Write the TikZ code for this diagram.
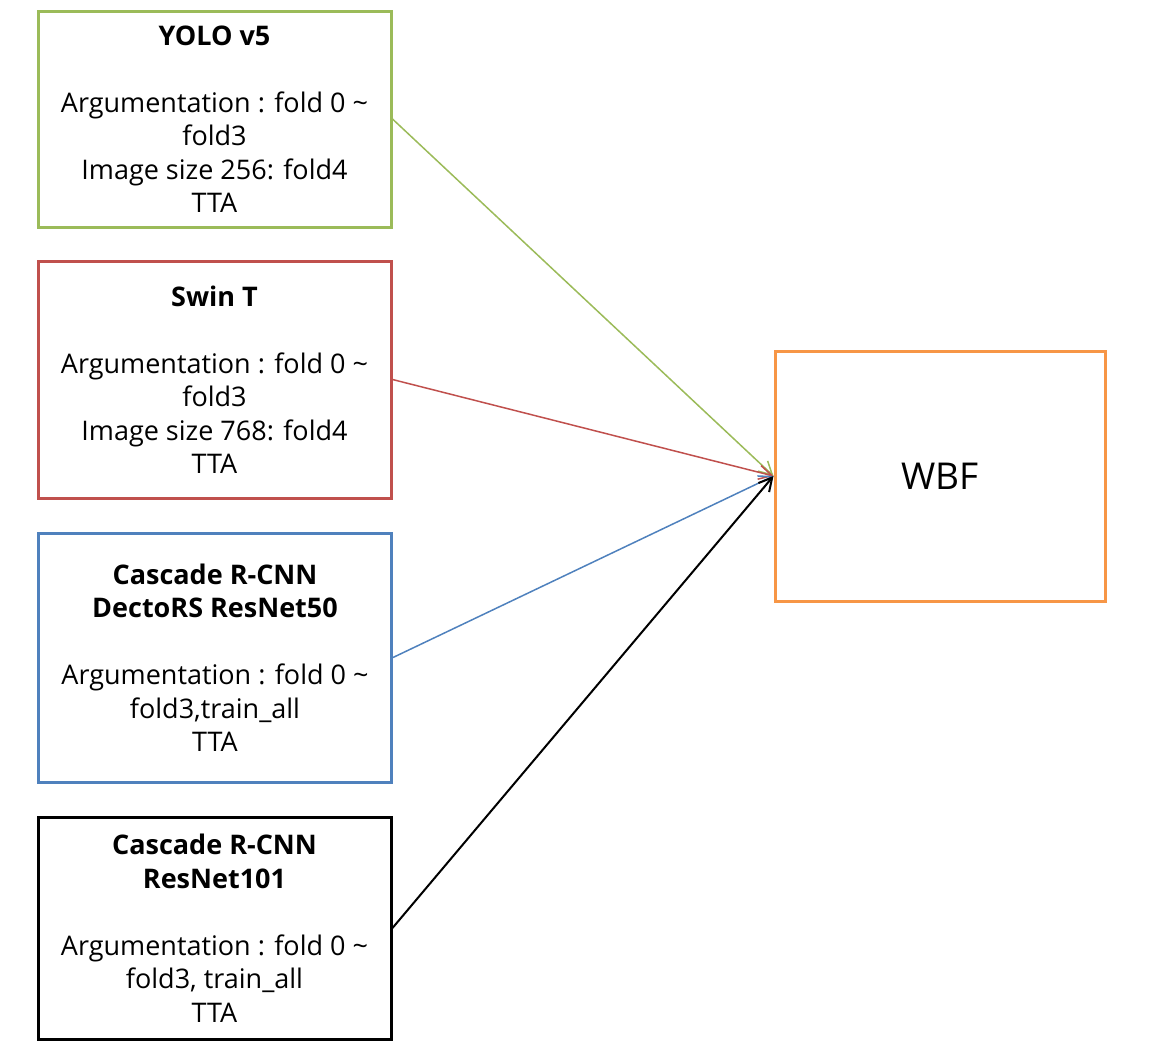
\documentclass[tikz,border=0pt]{standalone}
\usepackage{fontspec}
\IfFontExistsTF{Open Sans Bold}
  {\setmainfont{Open Sans}[BoldFont={Open Sans Bold}]}
  {\setmainfont{Open Sans}}
\usetikzlibrary{arrows.meta}
\definecolor{yologreen}{HTML}{9BBB59}
\definecolor{swinred}{HTML}{C0504D}
\definecolor{detectoblue}{HTML}{4F81BD}
\definecolor{wbforange}{HTML}{F79646}
\begin{document}
\begin{tikzpicture}[x=1pt,y=-1pt,
    model/.style={draw,line width=3pt,minimum width=353pt,align=center,
      font=\fontsize{27}{33.5}\selectfont},
    feed/.style={-{Straight Barb[length=13pt,width=14pt]},line width=1.5pt}]
  \useasboundingbox (0,0) rectangle (1173,1055);
  \node[model,draw=yologreen,minimum height=216pt] (yolo) at (214.5,119)
    {\textbf{YOLO v5}\\[33.5pt]Argumentation : fold 0 \textasciitilde\\fold3\\Image size 256: fold4\\TTA};
  \node[model,draw=swinred,minimum height=237pt] (swin) at (214.5,379.5)
    {\textbf{Swin T}\\[33.5pt]Argumentation : fold 0 \textasciitilde\\fold3\\Image size 768: fold4\\TTA};
  \node[model,draw=detectoblue,minimum height=249pt] (detecto) at (215,657.5)
    {\textbf{Cascade R-CNN}\\\textbf{DectoRS ResNet50}\\[33.5pt]Argumentation : fold 0 \textasciitilde\\fold3,train\_all\\TTA};
  \node[model,draw=black,minimum height=222pt] (resnet) at (214.5,928)
    {\textbf{Cascade R-CNN}\\\textbf{ResNet101}\\[33.5pt]Argumentation : fold 0 \textasciitilde\\fold3, train\_all\\TTA};
  \node[draw=wbforange,line width=3pt,minimum width=330pt,minimum height=250pt,
    font=\fontsize{37}{43}\selectfont] (wbf) at (940,476) {WBF};
  \draw[feed,yologreen] (yolo.east) -- (wbf.west);
  \draw[feed,swinred] (swin.east) -- (wbf.west);
  \draw[feed,detectoblue] (detecto.east) -- (wbf.west);
  \draw[feed,black,line width=2pt] (resnet.east) -- (wbf.west);
\end{tikzpicture}
\end{document}
